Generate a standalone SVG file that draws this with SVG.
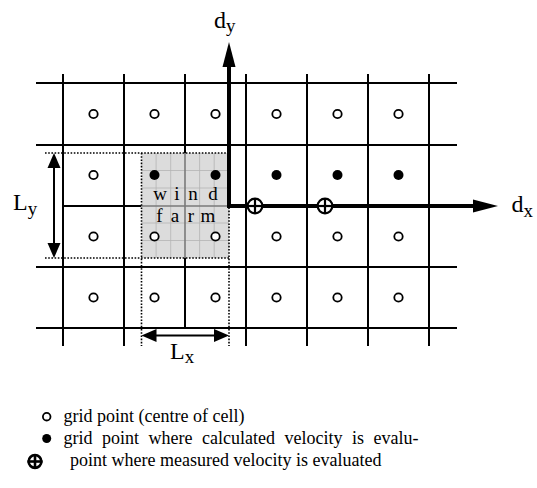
<svg xmlns="http://www.w3.org/2000/svg" width="537" height="488" viewBox="0 0 537 488">
<style>
.g{stroke:#000;stroke-width:2;fill:none}
.fine{stroke:#b4b4b4;stroke-width:0.8;fill:none}
.gm{stroke:#7a7a7a;stroke-width:1.6;fill:none}
.dot{stroke:#000;stroke-width:1.6;stroke-dasharray:1.6 1.6;fill:none}
.open{fill:#fff;stroke:#000;stroke-width:1.8}
.fill{fill:#000}
.ax{stroke:#000;stroke-width:4;fill:none}
.cc{fill:#fff;stroke:#000;stroke-width:2.2}
.ccx{stroke:#000;stroke-width:2.2}
.dim{stroke:#000;stroke-width:2;fill:none}
.t{font-family:"Liberation Serif","Times New Roman",serif;fill:#000}
.lab{font-size:24px}
.sub{font-size:19px}
.wf{font-size:19px}
.leg{font-size:18px}
</style>
<rect x="0" y="0" width="537" height="488" fill="#fff"/>
<g id="grid">
<line class="g" x1="36" y1="83" x2="457" y2="83"/>
<line class="g" x1="36" y1="145" x2="457" y2="145"/>
<line class="g" x1="63" y1="206" x2="141.5" y2="206"/>
<line class="g" x1="229" y1="206" x2="457" y2="206"/>
<line class="g" x1="36" y1="267" x2="457" y2="267"/>
<line class="g" x1="36" y1="328" x2="457" y2="328"/>
<line class="g" x1="63" y1="74" x2="63" y2="346"/>
<line class="g" x1="124" y1="74" x2="124" y2="346"/>
<line class="g" x1="185" y1="74" x2="185" y2="153"/>
<line class="g" x1="185" y1="258" x2="185" y2="328"/>
<line class="g" x1="246" y1="74" x2="246" y2="346"/>
<line class="g" x1="307" y1="74" x2="307" y2="346"/>
<line class="g" x1="368" y1="74" x2="368" y2="346"/>
<line class="g" x1="429" y1="74" x2="429" y2="346"/>
</g>
<g id="wind-farm">
<rect x="141.5" y="153" width="87.5" height="105" fill="#dcdcdc"/>
<path class="fine" d="M156.1 153V258M170.7 153V258M199.6 153V258M214.2 153V258M141.5 170.5H229M141.5 188H229M141.5 223H229M141.5 240.5H229"/>
<line class="gm" x1="185" y1="153" x2="185" y2="258"/>
<line class="gm" x1="141.5" y1="206" x2="229" y2="206"/>
<text class="t wf" text-anchor="middle" y="200"><tspan x="160">w</tspan><tspan x="177">i</tspan><tspan x="193">n</tspan><tspan x="213">d</tspan></text>
<text class="t wf" text-anchor="middle" y="222"><tspan x="159.5">f</tspan><tspan x="175">a</tspan><tspan x="191">r</tspan><tspan x="208">m</tspan></text>
</g>
<g id="extent">
<line class="dot" x1="45" y1="153" x2="229" y2="153"/>
<line class="dot" x1="45" y1="258" x2="229" y2="258"/>
<line class="dot" x1="141.5" y1="153" x2="141.5" y2="346"/>
<line class="dot" x1="229" y1="153" x2="229" y2="346"/>
</g>
<g id="grid-points">
<circle class="open" cx="93.5" cy="114" r="4.2"/><circle class="open" cx="154.5" cy="114" r="4.2"/><circle class="open" cx="215.5" cy="114" r="4.2"/><circle class="open" cx="276.5" cy="114" r="4.2"/><circle class="open" cx="337.5" cy="114" r="4.2"/><circle class="open" cx="398.5" cy="114" r="4.2"/>
<circle class="open" cx="93.5" cy="175" r="4.2"/><circle class="fill" cx="154.5" cy="175" r="5"/><circle class="fill" cx="215.5" cy="175" r="5"/><circle class="fill" cx="276.5" cy="175" r="5"/><circle class="fill" cx="337.5" cy="175" r="5"/><circle class="fill" cx="398.5" cy="175" r="5"/>
<circle class="open" cx="93.5" cy="236.5" r="4.2"/><circle class="open" cx="154.5" cy="236.5" r="4.2"/><circle class="open" cx="215.5" cy="236.5" r="4.2"/><circle class="open" cx="276.5" cy="236.5" r="4.2"/><circle class="open" cx="337.5" cy="236.5" r="4.2"/><circle class="open" cx="398.5" cy="236.5" r="4.2"/>
<circle class="open" cx="93.5" cy="297.5" r="4.2"/><circle class="open" cx="154.5" cy="297.5" r="4.2"/><circle class="open" cx="215.5" cy="297.5" r="4.2"/><circle class="open" cx="276.5" cy="297.5" r="4.2"/><circle class="open" cx="337.5" cy="297.5" r="4.2"/><circle class="open" cx="398.5" cy="297.5" r="4.2"/>
</g>
<g id="connectors">
<line class="ax" x1="229" y1="208" x2="229" y2="64"/>
<polygon points="229,42 222.5,67 235.5,67" fill="#000"/>
<line class="ax" x1="227" y1="206" x2="476" y2="206"/>
<polygon points="498,206 473,199.5 473,212.5" fill="#000"/>
<line class="dim" x1="54" y1="165" x2="54" y2="246"/>
<polygon points="54,153 47.5,168 60.5,168" fill="#000"/>
<polygon points="54,258 47.5,243 60.5,243" fill="#000"/>
<line class="dim" x1="153" y1="335.5" x2="217" y2="335.5"/>
<polygon points="141.5,335.5 156.5,329 156.5,342" fill="#000"/>
<polygon points="229,335.5 214,329 214,342" fill="#000"/>
</g>
<g id="measure-points">
<circle class="cc" cx="255" cy="206" r="7.3"/><line class="ccx" x1="255" y1="198.7" x2="255" y2="213.3"/><line class="ccx" x1="247.7" y1="206" x2="262.3" y2="206"/>
<circle class="cc" cx="325" cy="206" r="7.3"/><line class="ccx" x1="325" y1="198.7" x2="325" y2="213.3"/><line class="ccx" x1="317.7" y1="206" x2="332.3" y2="206"/>
</g>
<g id="labels">
<text class="t lab" x="214" y="28">d<tspan class="sub" dy="4">y</tspan></text>
<text class="t lab" x="511.5" y="212">d<tspan class="sub" dy="5">x</tspan></text>
<text class="t lab" x="13" y="209.5">L<tspan class="sub" dy="5">y</tspan></text>
<text class="t lab" x="170" y="358.5">L<tspan class="sub" dy="4">x</tspan></text>
</g>
<g id="legend">
<circle class="open" cx="46.7" cy="416.7" r="3.8"/>
<circle class="fill" cx="46.7" cy="438.5" r="4.5"/>
<circle cx="35" cy="461.5" r="6.4" fill="#fff" stroke="#000" stroke-width="2.6"/>
<line x1="35" y1="454" x2="35" y2="469" stroke="#000" stroke-width="2.6"/>
<line x1="27.5" y1="461.5" x2="42.5" y2="461.5" stroke="#000" stroke-width="2.6"/>
<text class="t leg" x="63.5" y="422.3">grid point (centre of cell)</text>
<text class="t leg" y="444.3"><tspan x="63.5">grid</tspan><tspan x="102">point</tspan><tspan x="148.5">where</tspan><tspan x="202">calculated</tspan><tspan x="284.5">velocity</tspan><tspan x="352">is</tspan><tspan x="373.5">evalu-</tspan></text>
<text class="t leg" x="70" y="466">point where measured velocity is evaluated</text>
</g>
</svg>
